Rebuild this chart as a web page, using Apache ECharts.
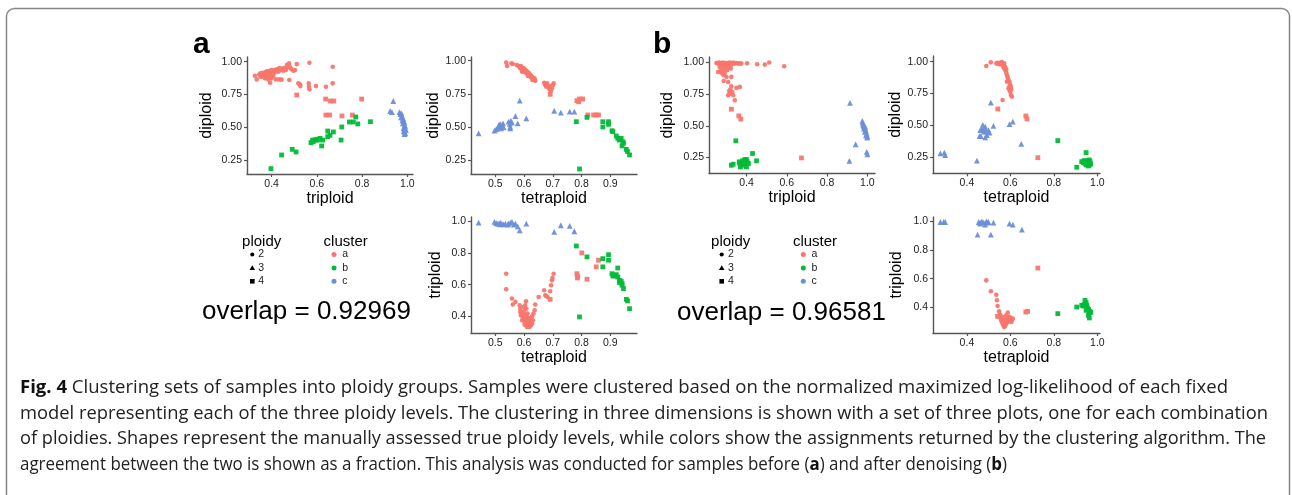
<!DOCTYPE html>
<html><head><meta charset="utf-8">
<script src="https://cdn.jsdelivr.net/npm/echarts@6/dist/echarts.min.js"></script>
<style>html,body{margin:0;padding:0;background:#fff}#c{width:1292px;height:495px}</style>
</head><body><div id="c"></div>
<script>
// ---------------- tick labels ----------------
const diploidTicks = ['0.25', '0.50', '0.75', '1.00'];
const triploidTicksX = ['0.4', '0.6', '0.8', '1.0'];
const triploidTicksY = ['0.4', '0.6', '0.8', '1.0'];
const tetraTicksA = ['0.5', '0.6', '0.7', '0.8', '0.9'];
const tetraTicksB = ['0.4', '0.6', '0.8', '1.0'];

// ---------------- panel a (before denoising) ----------------
// x = triploid, y = diploid
const A_TD_a2 = [[0.326,0.893],[0.334,0.865],[0.345,0.903],[0.351,0.911],[0.356,0.891],[0.360,0.916],[0.365,0.898],[0.369,0.908],[0.373,0.921],[0.376,0.886],[0.379,0.926],[0.382,0.906],[0.385,0.916],[0.388,0.893],[0.391,0.931],[0.394,0.911],[0.397,0.921],[0.401,0.936],[0.404,0.903],[0.407,0.926],[0.412,0.916],[0.416,0.939],[0.419,0.931],[0.425,0.942],[0.429,0.924],[0.434,0.952],[0.440,0.936],[0.446,0.947],[0.452,0.931],[0.458,0.954],[0.463,0.936],[0.468,0.977],[0.472,0.957],[0.477,0.987],[0.481,0.957],[0.488,0.942],[0.496,0.931],[0.503,0.936],[0.511,0.982],[0.393,0.840],[0.419,0.865],[0.434,0.865],[0.444,0.863],[0.478,0.860],[0.371,0.873],[0.385,0.865],[0.400,0.873],[0.567,0.992],[0.670,0.962],[0.518,0.835],[0.525,0.827],[0.527,0.814],[0.564,0.835],[0.565,0.809],[0.567,0.789],[0.596,0.814],[0.640,0.809],[0.670,0.835],[0.351,0.886],[0.363,0.886],[0.378,0.898],[0.393,0.886],[0.399,0.898],[0.407,0.891],[0.387,0.878],[0.372,0.896]];
const A_TD_a4 = [[0.511,0.746],[0.639,0.715],[0.660,0.700],[0.675,0.700],[0.798,0.715],[0.640,0.593],[0.656,0.593],[0.711,0.586],[0.757,0.593]];
const A_TD_b4 = [[0.397,0.184],[0.444,0.288],[0.491,0.331],[0.508,0.311],[0.574,0.382],[0.581,0.402],[0.592,0.402],[0.599,0.408],[0.614,0.415],[0.626,0.402],[0.621,0.357],[0.648,0.471],[0.648,0.428],[0.658,0.438],[0.673,0.464],[0.710,0.502],[0.707,0.402],[0.744,0.540],[0.761,0.540],[0.772,0.578],[0.781,0.525],[0.837,0.542],[0.584,0.390],[0.606,0.402]];
const A_TD_c3 = [[0.924,0.624],[0.932,0.616],[0.938,0.700],[0.965,0.616],[0.969,0.601],[0.974,0.606],[0.977,0.586],[0.980,0.568],[0.983,0.560],[0.984,0.547],[0.987,0.535],[0.980,0.530],[0.988,0.517],[0.986,0.504],[0.991,0.504],[0.983,0.491],[0.990,0.484],[0.994,0.479],[0.984,0.471],[0.988,0.464],[0.991,0.453],[0.987,0.448],[0.978,0.550],[0.972,0.575]];

// x = tetraploid, y = diploid
const A_QD_a2 = [[0.538,0.987],[0.541,0.960],[0.556,0.980],[0.561,0.975],[0.575,0.967],[0.581,0.960],[0.585,0.955],[0.587,0.942],[0.590,0.950],[0.593,0.935],[0.596,0.930],[0.599,0.942],[0.601,0.917],[0.604,0.924],[0.607,0.909],[0.610,0.904],[0.612,0.917],[0.616,0.897],[0.619,0.884],[0.622,0.892],[0.625,0.874],[0.628,0.879],[0.631,0.867],[0.633,0.859],[0.637,0.854],[0.639,0.849],[0.593,0.917],[0.601,0.935],[0.608,0.924],[0.614,0.884],[0.629,0.854],[0.670,0.834],[0.674,0.816],[0.677,0.804],[0.680,0.829],[0.682,0.809],[0.686,0.799],[0.689,0.784],[0.691,0.809],[0.697,0.791],[0.701,0.816],[0.703,0.829],[0.694,0.773],[0.589,0.960],[0.595,0.947],[0.603,0.930],[0.609,0.912],[0.618,0.904],[0.624,0.887],[0.636,0.867]];
const A_QD_a4 = [[0.691,0.746],[0.784,0.698],[0.793,0.711],[0.804,0.711],[0.790,0.690],[0.822,0.590],[0.842,0.590],[0.851,0.590],[0.859,0.590]];
const A_QD_b4 = [[0.782,0.539],[0.819,0.572],[0.793,0.182],[0.874,0.539],[0.874,0.499],[0.894,0.539],[0.894,0.519],[0.906,0.471],[0.909,0.464],[0.921,0.431],[0.926,0.414],[0.932,0.406],[0.938,0.414],[0.944,0.388],[0.946,0.376],[0.941,0.356],[0.956,0.330],[0.960,0.313],[0.967,0.288],[0.931,0.401]];
const A_QD_c3 = [[0.442,0.451],[0.497,0.471],[0.503,0.481],[0.508,0.489],[0.512,0.514],[0.515,0.502],[0.517,0.522],[0.520,0.489],[0.523,0.514],[0.527,0.527],[0.529,0.497],[0.546,0.539],[0.550,0.522],[0.552,0.502],[0.554,0.547],[0.558,0.532],[0.570,0.582],[0.578,0.527],[0.585,0.698],[0.608,0.565],[0.705,0.622],[0.728,0.607],[0.759,0.615],[0.775,0.615],[0.552,0.489]];

// x = tetraploid, y = triploid
const A_QT_a2 = [[0.538,0.669],[0.538,0.571],[0.558,0.512],[0.561,0.474],[0.570,0.491],[0.585,0.469],[0.587,0.427],[0.589,0.406],[0.593,0.417],[0.596,0.396],[0.599,0.385],[0.601,0.368],[0.604,0.469],[0.607,0.495],[0.608,0.448],[0.610,0.396],[0.612,0.375],[0.615,0.364],[0.616,0.354],[0.618,0.385],[0.622,0.364],[0.624,0.343],[0.619,0.333],[0.628,0.354],[0.631,0.375],[0.633,0.417],[0.637,0.438],[0.639,0.474],[0.651,0.522],[0.670,0.564],[0.674,0.533],[0.677,0.528],[0.682,0.522],[0.691,0.558],[0.694,0.596],[0.697,0.627],[0.699,0.642],[0.703,0.669],[0.599,0.432],[0.604,0.411],[0.610,0.333],[0.608,0.375],[0.602,0.347],[0.593,0.375],[0.616,0.389],[0.622,0.385],[0.612,0.417],[0.628,0.400],[0.587,0.448],[0.599,0.459],[0.617,0.368],[0.608,0.354],[0.625,0.368],[0.603,0.389],[0.620,0.347],[0.610,0.364]];
const A_QT_a4 = [[0.801,0.800],[0.784,0.669],[0.786,0.655],[0.786,0.642],[0.819,0.634],[0.851,0.712],[0.859,0.754],[0.691,0.507]];
const A_QT_b4 = [[0.782,0.844],[0.819,0.775],[0.793,0.396],[0.874,0.764],[0.874,0.712],[0.894,0.789],[0.894,0.754],[0.906,0.669],[0.909,0.655],[0.914,0.655],[0.921,0.663],[0.926,0.648],[0.932,0.627],[0.932,0.613],[0.938,0.621],[0.941,0.596],[0.946,0.575],[0.941,0.606],[0.956,0.507],[0.960,0.497],[0.967,0.448],[0.926,0.705]];
const A_QT_c3 = [[0.442,0.992],[0.497,0.996],[0.503,0.989],[0.508,0.985],[0.513,0.985],[0.517,0.981],[0.523,0.985],[0.529,0.981],[0.535,0.985],[0.543,0.979],[0.546,0.985],[0.552,0.992],[0.558,0.996],[0.564,0.979],[0.570,0.985],[0.578,0.968],[0.585,0.943],[0.608,0.985],[0.705,0.933],[0.728,0.975],[0.759,0.971],[0.775,0.937],[0.517,0.992]];

// ---------------- panel b (after denoising) ----------------
// x = triploid, y = diploid
const B_TD_a2 = [[0.251,0.997],[0.259,0.992],[0.264,1.000],[0.271,0.987],[0.276,0.997],[0.281,0.992],[0.284,1.000],[0.287,0.984],[0.292,0.992],[0.297,0.997],[0.301,0.979],[0.304,0.992],[0.309,0.997],[0.314,0.987],[0.317,1.000],[0.320,0.992],[0.325,0.982],[0.330,0.995],[0.334,1.000],[0.342,0.992],[0.350,0.997],[0.359,0.992],[0.367,0.995],[0.375,0.992],[0.403,0.995],[0.453,0.987],[0.491,0.984],[0.513,1.000],[0.587,0.971],[0.259,0.926],[0.271,0.934],[0.277,0.918],[0.284,0.945],[0.287,0.900],[0.292,0.918],[0.301,0.887],[0.309,0.847],[0.287,0.855],[0.297,0.961],[0.267,0.966],[0.304,0.939],[0.312,0.961],[0.322,0.953],[0.325,0.887],[0.350,0.800],[0.367,0.808],[0.320,0.787],[0.330,0.768],[0.325,0.813],[0.314,0.776],[0.317,0.755],[0.334,0.742],[0.342,0.703],[0.309,0.742],[0.281,0.971],[0.297,0.979]];
const B_TD_a4 = [[0.325,0.632],[0.362,0.579],[0.372,0.553],[0.673,0.247]];
const B_TD_b4 = [[0.347,0.382],[0.325,0.189],[0.334,0.197],[0.367,0.203],[0.370,0.176],[0.380,0.224],[0.387,0.203],[0.392,0.224],[0.397,0.208],[0.400,0.176],[0.403,0.216],[0.410,0.203],[0.400,0.234],[0.392,0.234],[0.430,0.282],[0.450,0.224],[0.364,0.216],[0.383,0.189]];
const B_TD_c3 = [[0.914,0.682],[0.942,0.355],[0.911,0.224],[0.975,0.539],[0.977,0.524],[0.980,0.513],[0.983,0.497],[0.987,0.484],[0.990,0.471],[0.993,0.461],[0.997,0.439],[1.000,0.418],[0.999,0.408],[0.993,0.426],[0.988,0.453],[0.983,0.479],[0.997,0.295],[1.000,0.276],[0.980,0.505],[0.990,0.492]];

// x = tetraploid, y = diploid
const B_QD_a2 = [[0.489,0.966],[0.510,0.995],[0.535,0.987],[0.541,0.992],[0.545,0.982],[0.550,0.987],[0.553,0.992],[0.556,0.979],[0.561,0.987],[0.565,0.974],[0.568,0.961],[0.571,0.948],[0.576,0.935],[0.581,0.914],[0.584,0.895],[0.587,0.882],[0.591,0.856],[0.596,0.843],[0.599,0.817],[0.602,0.804],[0.584,0.843],[0.591,0.791],[0.596,0.778],[0.599,0.765],[0.602,0.739],[0.607,0.726],[0.564,0.700],[0.571,0.987],[0.561,0.997],[0.576,0.961],[0.581,0.940],[0.588,0.869],[0.596,0.809],[0.604,0.783]];
const B_QD_a4 = [[0.542,0.629],[0.671,0.574],[0.676,0.551],[0.726,0.247]];
const B_QD_b4 = [[0.818,0.381],[0.905,0.172],[0.948,0.287],[0.928,0.216],[0.936,0.208],[0.943,0.203],[0.948,0.216],[0.951,0.198],[0.954,0.224],[0.959,0.208],[0.963,0.190],[0.966,0.216],[0.969,0.198],[0.959,0.182],[0.948,0.190],[0.939,0.224],[0.963,0.229]];
const B_QD_c3 = [[0.278,0.281],[0.296,0.287],[0.300,0.268],[0.446,0.224],[0.510,0.679],[0.473,0.504],[0.461,0.464],[0.464,0.417],[0.458,0.417],[0.469,0.470],[0.477,0.451],[0.480,0.477],[0.484,0.490],[0.489,0.451],[0.492,0.425],[0.499,0.464],[0.504,0.443],[0.484,0.407],[0.522,0.496],[0.596,0.511],[0.611,0.530],[0.650,0.355]];

// x = tetraploid, y = triploid
const B_QT_a2 = [[0.489,0.588],[0.510,0.512],[0.535,0.488],[0.538,0.449],[0.541,0.409],[0.548,0.372],[0.550,0.344],[0.553,0.333],[0.556,0.321],[0.558,0.309],[0.561,0.298],[0.564,0.286],[0.568,0.274],[0.571,0.263],[0.576,0.270],[0.581,0.286],[0.584,0.298],[0.588,0.309],[0.591,0.321],[0.596,0.333],[0.599,0.314],[0.602,0.326],[0.607,0.309],[0.611,0.321],[0.581,0.344],[0.588,0.363],[0.565,0.333],[0.573,0.309],[0.578,0.298],[0.584,0.321],[0.553,0.349],[0.594,0.302],[0.604,0.298]];
const B_QT_a4 = [[0.671,0.367],[0.679,0.372],[0.726,0.674],[0.541,0.337]];
const B_QT_b4 = [[0.818,0.356],[0.905,0.402],[0.939,0.419],[0.928,0.414],[0.943,0.449],[0.948,0.433],[0.951,0.414],[0.954,0.395],[0.959,0.386],[0.963,0.372],[0.966,0.363],[0.959,0.344],[0.963,0.326],[0.969,0.367],[0.948,0.379],[0.936,0.409]];
const B_QT_c3 = [[0.278,0.995],[0.293,0.995],[0.300,0.995],[0.449,0.907],[0.454,0.995],[0.461,0.991],[0.469,1.000],[0.477,0.991],[0.484,0.977],[0.489,1.000],[0.495,0.991],[0.499,0.995],[0.510,0.907],[0.522,0.991],[0.596,0.984],[0.611,0.977],[0.653,0.942],[0.461,0.984]];

// legend / text content
const ploidyLevels = ['2', '3', '4'];
const clusterNames = ['a', 'b', 'c'];
const overlapA = 'overlap = 0.92969';
const overlapB = 'overlap = 0.96581';
const captionLines = [
  [{t: 'Fig. 4', b: true}, {t: ' Clustering sets of samples into ploidy groups. Samples were clustered based on the normalized maximized log-likelihood of each fixed'}],
  [{t: 'model representing each of the three ploidy levels. The clustering in three dimensions is shown with a set of three plots, one for each combination'}],
  [{t: 'of ploidies. Shapes represent the manually assessed true ploidy levels, while colors show the assignments returned by the clustering algorithm. The'}],
  [{t: 'agreement between the two is shown as a fraction. This analysis was conducted for samples before ('}, {t: 'a', b: true}, {t: ') and after denoising ('}, {t: 'b', b: true}, {t: ')'}]
];

// ---------------- styling / layout ----------------
const FONT = 'Liberation Sans';
const COL = {a: '#F8766D', b: '#00BA38', c: '#6B8FD6'};
const SYM = {'2': 'circle', '3': 'triangle', '4': 'rect'};
const SYMSIZE = {'2': 4.6, '3': 5.8, '4': 4.8};
const AXIS_COLOR = '#555';
const LABEL_COLOR = '#222';

const layout = [
  {left: 247, top: 57, width: 166, height: 117, x: [0.291, 1.025], y: [0.143, 1.036], xName: 'triploid', yName: 'diploid', xt: triploidTicksX, yt: diploidTicks, yGap: 32},
  {left: 471, top: 57, width: 166, height: 117, x: [0.4155, 0.993], y: [0.144, 1.028], xName: 'tetraploid', yName: 'diploid', xt: tetraTicksA, yt: diploidTicks, yGap: 26},
  {left: 471, top: 217, width: 166, height: 116, x: [0.4155, 0.993], y: [0.2945, 1.027], xName: 'tetraploid', yName: 'triploid', xt: tetraTicksA, yt: triploidTicksY, yGap: 27},
  {left: 709, top: 57, width: 166, height: 116.5, x: [0.214, 1.038], y: [0.124, 1.044], xName: 'triploid', yName: 'diploid', xt: triploidTicksX, yt: diploidTicks, yGap: 33.5},
  {left: 933, top: 56, width: 167, height: 117.3, x: [0.244, 1.012], y: [0.1245, 1.045], xName: 'tetraploid', yName: 'diploid', xt: tetraTicksB, yt: diploidTicks, yGap: 27.5},
  {left: 933, top: 217, width: 167, height: 116, x: [0.244, 1.012], y: [0.221, 1.03], xName: 'tetraploid', yName: 'triploid', xt: tetraTicksB, yt: triploidTicksY, yGap: 28.5}
];

const seriesSpec = [
  [0, A_TD_a2, 'a', '2'], [0, A_TD_a4, 'a', '4'], [0, A_TD_b4, 'b', '4'], [0, A_TD_c3, 'c', '3'],
  [1, A_QD_a2, 'a', '2'], [1, A_QD_a4, 'a', '4'], [1, A_QD_b4, 'b', '4'], [1, A_QD_c3, 'c', '3'],
  [2, A_QT_a2, 'a', '2'], [2, A_QT_a4, 'a', '4'], [2, A_QT_b4, 'b', '4'], [2, A_QT_c3, 'c', '3'],
  [3, B_TD_a2, 'a', '2'], [3, B_TD_a4, 'a', '4'], [3, B_TD_b4, 'b', '4'], [3, B_TD_c3, 'c', '3'],
  [4, B_QD_a2, 'a', '2'], [4, B_QD_a4, 'a', '4'], [4, B_QD_b4, 'b', '4'], [4, B_QD_c3, 'c', '3'],
  [5, B_QT_a2, 'a', '2'], [5, B_QT_a4, 'a', '4'], [5, B_QT_b4, 'b', '4'], [5, B_QT_c3, 'c', '3']
];

function tickAxis(ticks, range, name, gap, isX) {
  const vals = ticks.map(Number);
  const map = {};
  ticks.forEach(s => { map[Number(s)] = s; });
  return {
    type: 'value', min: range[0], max: range[1],
    name: name, nameLocation: 'middle', nameGap: gap, nameRotate: isX ? 0 : 90,
    nameTextStyle: {fontFamily: FONT, fontSize: 16, color: '#000'},
    axisLine: {show: true, onZero: false, lineStyle: {color: AXIS_COLOR, width: 1.4}},
    axisTick: {show: true, length: 3, customValues: vals, lineStyle: {color: AXIS_COLOR, width: 1.2}},
    axisLabel: {customValues: vals, formatter: v => (map[v] !== undefined ? map[v] : String(v)), margin: isX ? 4.5 : 5, fontFamily: FONT, fontSize: 10.5, color: LABEL_COLOR},
    splitLine: {show: false}
  };
}

const grids = [], xAxes = [], yAxes = [];
layout.forEach((g, i) => {
  grids.push({left: g.left, top: g.top, width: g.width, height: g.height, containLabel: false, outerBoundsMode: 'none'});
  const xa = tickAxis(g.xt, g.x, g.xName, 16, true); xa.gridIndex = i; xAxes.push(xa);
  const ya = tickAxis(g.yt, g.y, g.yName, g.yGap, false); ya.gridIndex = i; yAxes.push(ya);
});

const series = seriesSpec.map(([gi, data, cl, pl]) => ({
  type: 'scatter', xAxisIndex: gi, yAxisIndex: gi, data: data,
  symbol: SYM[pl], symbolSize: SYMSIZE[pl],
  itemStyle: {color: COL[cl], opacity: 0.95},
  emphasis: {disabled: true}, silent: true
}));

// ---------------- graphics: frame, panel labels, legends, captions ----------------
const graphic = [];
graphic.push({type: 'rect', silent: true, shape: {x: 6.5, y: 8.5, width: 1283, height: 600, r: 8}, style: {fill: 'none', stroke: '#858585', lineWidth: 1.5}});
graphic.push({type: 'text', x: 193, y: 45, style: {text: 'a', fontFamily: FONT, fontWeight: 'bold', fontSize: 30, fill: '#000', verticalAlign: 'middle'}});
graphic.push({type: 'text', x: 653, y: 45, style: {text: 'b', fontFamily: FONT, fontWeight: 'bold', fontSize: 30, fill: '#000', verticalAlign: 'middle'}});

const legendLayout = [
  {pTitle: 261.7, pSym: 252.3, pLab: 258.3, cTitle: 345.7, cSym: 334, cLab: 342.3, ovX: 202, ovY: 312, ov: overlapA},
  {pTitle: 730.7, pSym: 721.7, pLab: 728.0, cTitle: 815, cSym: 803.3, cLab: 811.5, ovX: 677, ovY: 313, ov: overlapB}
];
const rowY = [254.5, 268, 281.3];
legendLayout.forEach(L => {
  graphic.push({type: 'text', x: L.pTitle, y: 241.7, style: {text: 'ploidy', fontFamily: FONT, fontSize: 15, fill: '#000', align: 'center', verticalAlign: 'middle'}});
  graphic.push({type: 'text', x: L.cTitle, y: 241.7, style: {text: 'cluster', fontFamily: FONT, fontSize: 15, fill: '#000', align: 'center', verticalAlign: 'middle'}});
  ploidyLevels.forEach((p, k) => {
    const y = rowY[k], x = L.pSym;
    if (SYM[p] === 'circle') graphic.push({type: 'circle', shape: {cx: x, cy: y, r: 2.1}, style: {fill: '#000'}});
    else if (SYM[p] === 'triangle') graphic.push({type: 'polygon', shape: {points: [[x, y - 2.7], [x + 2.8, y + 2.1], [x - 2.8, y + 2.1]]}, style: {fill: '#000'}});
    else graphic.push({type: 'rect', shape: {x: x - 2.3, y: y - 2.3, width: 4.6, height: 4.6}, style: {fill: '#000'}});
    graphic.push({type: 'text', x: L.pLab, y: y, style: {text: p, fontFamily: FONT, fontSize: 10.5, fill: LABEL_COLOR, verticalAlign: 'middle'}});
  });
  clusterNames.forEach((c, k) => {
    const y = rowY[k];
    graphic.push({type: 'circle', shape: {cx: L.cSym, cy: y, r: 2.5}, style: {fill: COL[c]}});
    graphic.push({type: 'text', x: L.cLab, y: y, style: {text: c, fontFamily: FONT, fontSize: 10.5, fill: LABEL_COLOR, verticalAlign: 'middle'}});
  });
  graphic.push({type: 'text', x: L.ovX, y: L.ovY, style: {text: L.ov, fontFamily: FONT, fontSize: 26, fill: '#000', verticalAlign: 'middle'}});
});

// caption: each line scaled horizontally to the reference line length
const CAP_FONT = 'Open Sans', CAP_SIZE = 18.5;
const capY = [387.5, 413.3, 439, 464.8];
const capEnd = [1228, 1268, 1266, 1007];
const CAP_X = 20;
const mctx = document.createElement('canvas').getContext('2d');
function lineWidth(segs) {
  let w = 0;
  segs.forEach(s => { mctx.font = (s.b ? 'bold ' : '') + CAP_SIZE + 'px "' + CAP_FONT + '"'; w += mctx.measureText(s.t).width; });
  return w;
}
captionLines.forEach((segs, i) => {
  const txt = segs.map(s => (s.b ? '{b|' : '{n|') + s.t + '}').join('');
  const sx = (capEnd[i] - CAP_X) / lineWidth(segs);
  graphic.push({
    type: 'text', x: CAP_X, y: capY[i], scaleX: sx, scaleY: 1,
    style: {
      text: txt, fontFamily: CAP_FONT, fontSize: CAP_SIZE, fill: '#222', verticalAlign: 'middle',
      rich: {
        b: {fontFamily: CAP_FONT, fontSize: CAP_SIZE, fontWeight: 'bold', fill: '#111'},
        n: {fontFamily: CAP_FONT, fontSize: CAP_SIZE, fill: '#222'}
      }
    }
  });
});

const chart = echarts.init(document.getElementById('c'), null, {renderer: 'canvas'});
chart.setOption({
  animation: false,
  backgroundColor: '#fff',
  textStyle: {fontFamily: FONT},
  grid: grids, xAxis: xAxes, yAxis: yAxes,
  series: series,
  graphic: graphic
});
</script></body></html>
